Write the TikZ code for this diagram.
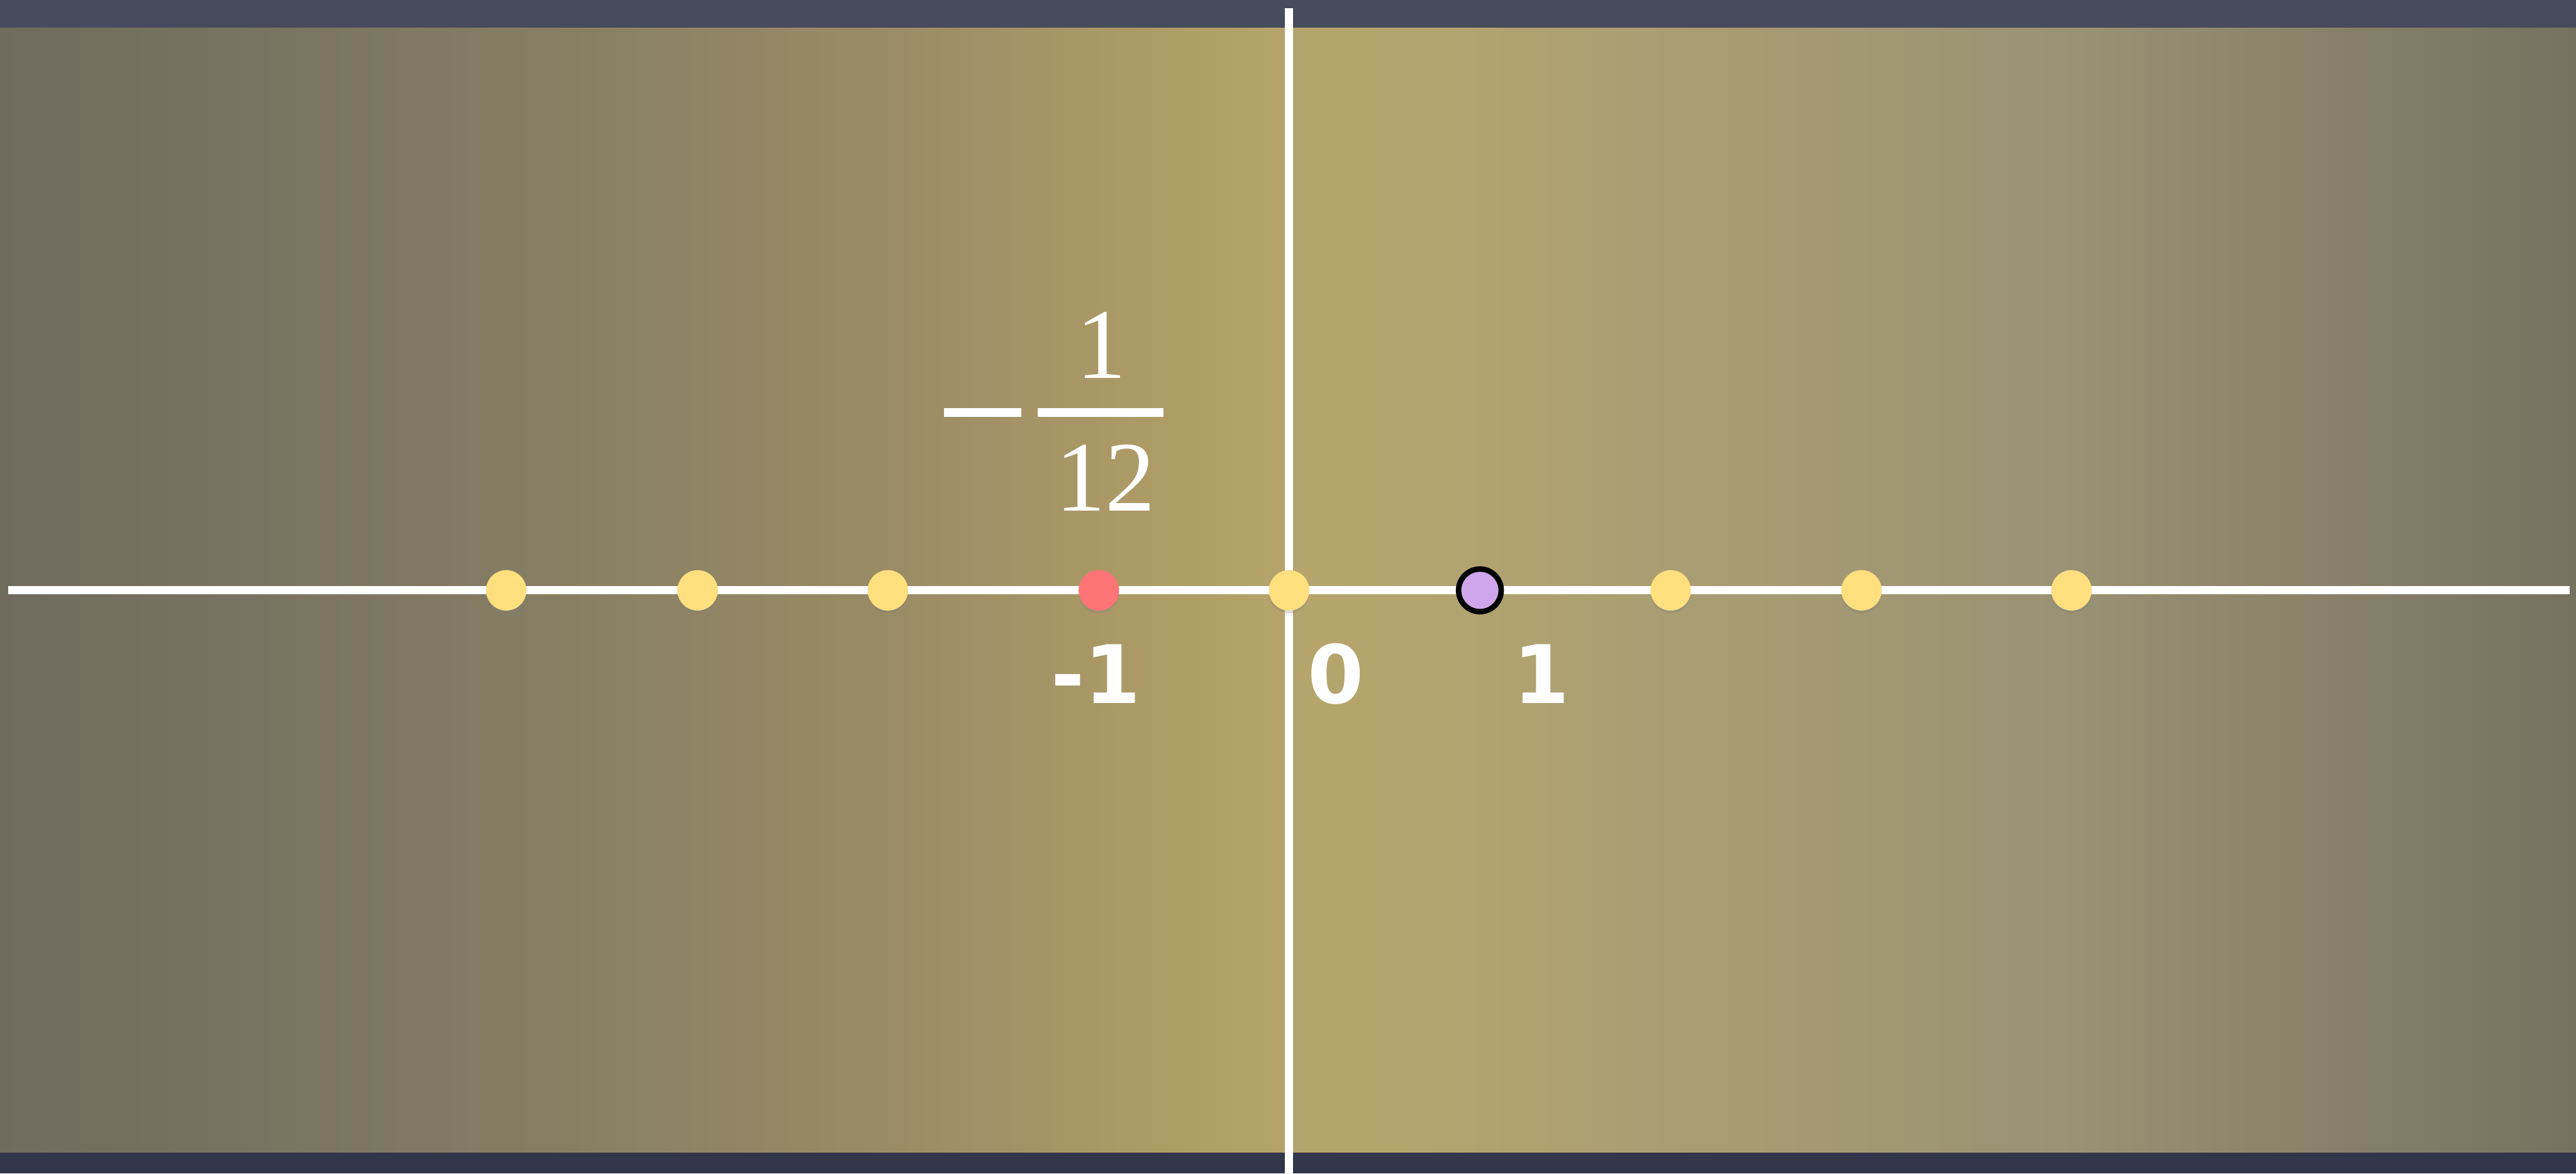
\documentclass[tikz,border=0pt]{standalone}
\usepackage{fontspec}
\setmainfont{Liberation Serif}
\newfontfamily\chalkfont{DejaVu Sans}
\usetikzlibrary{shadows}

\definecolor{bandtop}{HTML}{474B5E}
\definecolor{bandbot}{HTML}{33364A}
\definecolor{bgA}{HTML}{6F6C5E}
\definecolor{bgB}{HTML}{7E7862}
\definecolor{bgC}{HTML}{9A8C66}
\definecolor{bgD}{HTML}{AE9C66}
\definecolor{bgE}{HTML}{B5A46B}
\definecolor{bgF}{HTML}{B4A56F}
\definecolor{bgG}{HTML}{A99D72}
\definecolor{bgH}{HTML}{9A9274}
\definecolor{bgI}{HTML}{76725F}
\definecolor{dotyellow}{HTML}{FFDF7E}
\definecolor{dotred}{HTML}{FF7474}
\definecolor{dotpurple}{HTML}{CFA6EC}

\pgfdeclarehorizontalshading{boardshade}{100bp}{color(0bp)=(bgA); color(25bp)=(bgA);
  color(32.5bp)=(bgB); color(42.5bp)=(bgC); color(47.5bp)=(bgD); color(50bp)=(bgE);
  color(52.5bp)=(bgF); color(57.5bp)=(bgG); color(65bp)=(bgH); color(75bp)=(bgI);
  color(100bp)=(bgI)}

\tikzset{
  dot/.style={circle, fill=dotyellow, minimum size=0.74cm, inner sep=0,
    drop shadow={shadow xshift=0pt, shadow yshift=-0.05cm, opacity=0.3}},
  chalk/.style={draw=white, line width=0.15cm},
  numlabel/.style={text=white, font=\chalkfont\bfseries\fontsize{42}{50}\selectfont, inner sep=0}
}

\begin{document}
\begin{tikzpicture}
  \useasboundingbox (0,0) rectangle (47.12,21.47);
  % board
  \fill[bandtop] (0,20.96) rectangle (47.12,21.47);
  \fill[bandbot] (0,0) rectangle (47.12,0.39);
  \fill[shading=boardshade] (0,0.39) rectangle (47.12,20.96);

  % axes
  \coordinate (xl) at (0.15,10.67);
  \coordinate (xr) at (47.00,10.67);
  \coordinate (yt) at (23.58,21.32);
  \coordinate (yb) at (23.58,0);
  \draw[chalk] (xl) -- (xr);
  \draw[chalk] (yt) -- (yb);

  % points on the line
  \node[dot] (p1) at (9.26,10.67)  {};
  \node[dot] (p2) at (12.76,10.67) {};
  \node[dot] (p3) at (16.24,10.67) {};
  \node[dot, fill=dotred] (pm) at (20.10,10.67) {};
  \node[dot] (p0) at (23.58,10.67) {};
  \node[dot, fill=dotpurple, draw=black, line width=0.1cm, minimum size=0.78cm] (pp) at (27.07,10.67) {};
  \node[dot] (p5) at (30.56,10.67) {};
  \node[dot] (p6) at (34.05,10.67) {};
  \node[dot] (p7) at (37.89,10.67) {};

  % labels
  \node[numlabel] (lm) at (20.05,9.14) {-1};
  \node[numlabel] (l0) at (24.43,9.14) {0};
  \node[numlabel] (l1) at (28.20,9.14) {1};

  % the fraction
  \node[text=white, font=\fontsize{52}{60}\selectfont, anchor=base, inner sep=0] (num) at (20.15,14.55) {1};
  \node[text=white, font=\fontsize{52}{60}\selectfont, anchor=base, inner sep=0] (den) at (20.22,12.12) {12};
  \fill[white] (17.27,13.84) rectangle (18.68,14.00);
  \fill[white] (18.98,13.84) rectangle (21.28,14.00);
\end{tikzpicture}
\end{document}
